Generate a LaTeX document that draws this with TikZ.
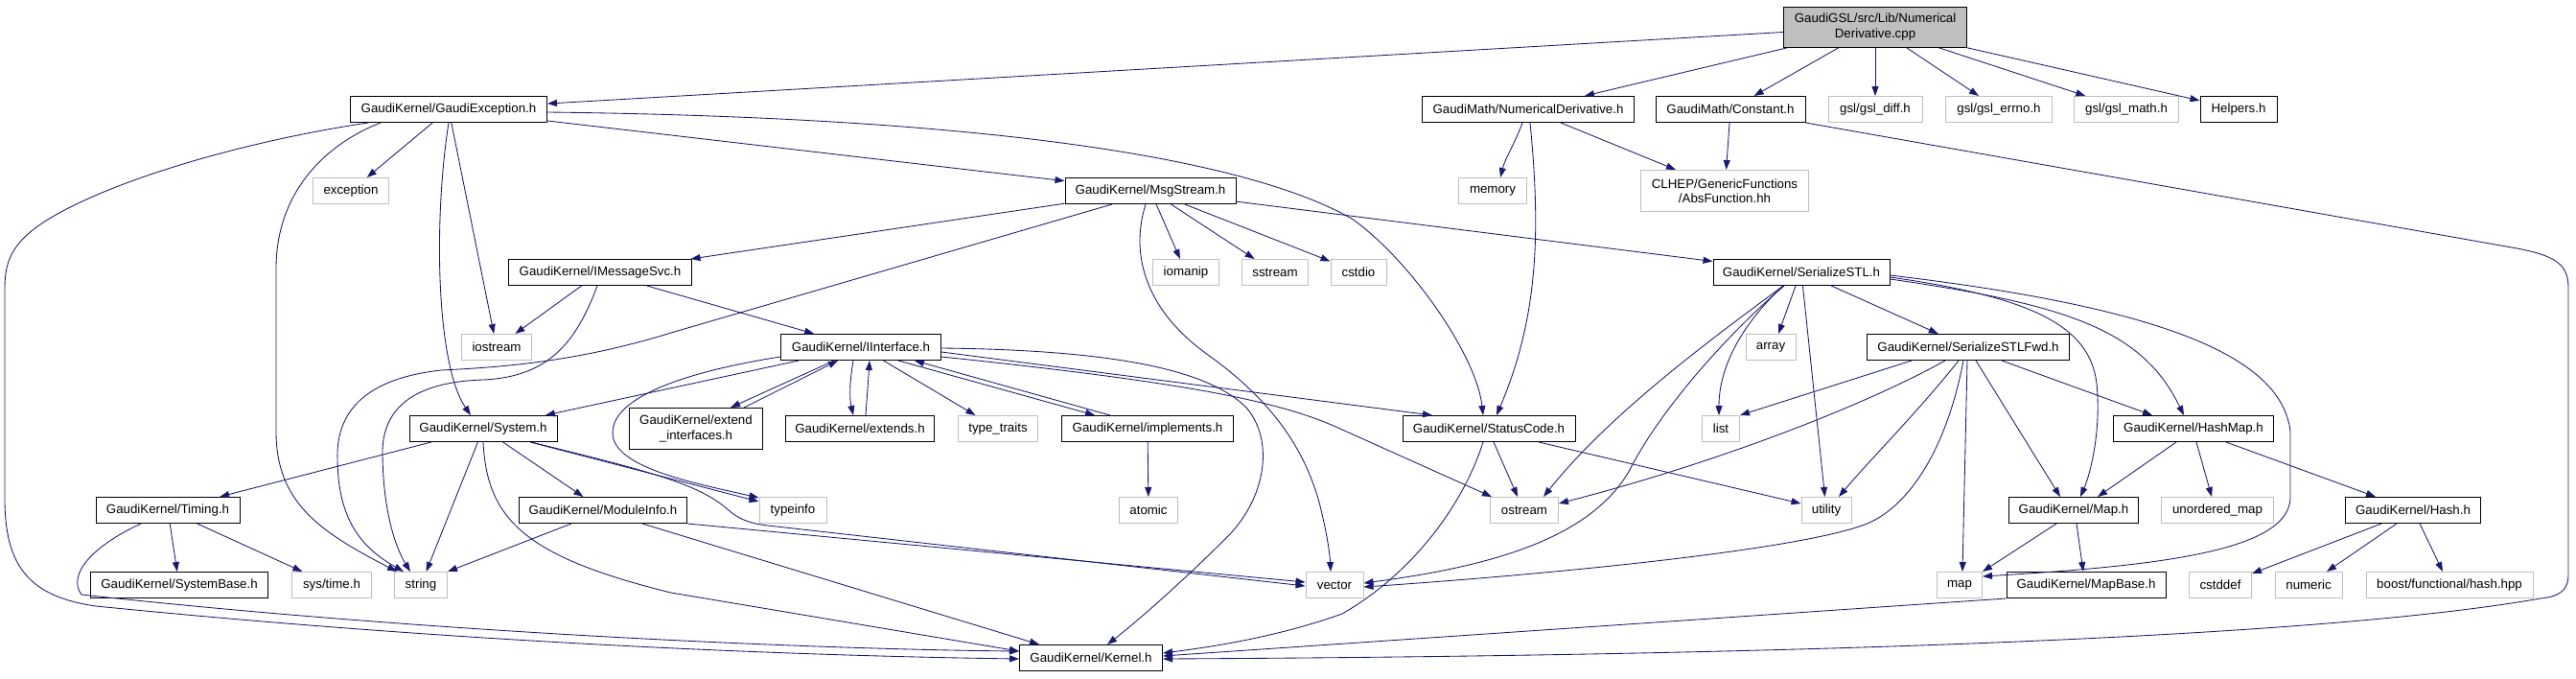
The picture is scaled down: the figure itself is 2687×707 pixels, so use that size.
\documentclass[tikz,border=0pt]{standalone}
\usepackage{fontspec}
\setmainfont{Liberation Sans}
\usetikzlibrary{arrows.meta}
\definecolor{edgeblue}{HTML}{191970}
\definecolor{extgray}{HTML}{BFBFBF}
\definecolor{rootgray}{HTML}{BFBFBF}
\newcommand\labfont{\fontsize{13.3}{15.5}\selectfont}
\begin{document}
\begin{tikzpicture}[x=1pt,y=-1pt,
  box/.style={draw=black, line width=1pt, fill=white, inner sep=0pt, minimum height=27pt, align=center, font=\labfont},
  ext/.style={box, draw=extgray},
  rootbox/.style={box, fill=rootgray, minimum height=42pt},
  e/.style={draw=edgeblue, line width=0.85pt, -{Triangle[length=10pt,width=7pt]}}]
\useasboundingbox (0,0) rectangle (2687,707);
\fill[white] (0,0) rectangle (2687,707);
% rank 0
\node[rootbox, minimum width=191pt] (root) at (1956,28) {GaudiGSL/src/Lib/Numerical\\Derivative.cpp};
% rank 1
\node[box, minimum width=205pt] (gexc) at (468,114) {GaudiKernel/GaudiException.h};
\node[box, minimum width=221pt] (numd) at (1594,114) {GaudiMath/NumericalDerivative.h};
\node[box, minimum width=156pt] (const) at (1805,114) {GaudiMath/Constant.h};
\node[ext, minimum width=98pt] (gdiff) at (1956,114) {gsl/gsl\_diff.h};
\node[ext, minimum width=111pt] (gerrno) at (2085,114) {gsl/gsl\_errno.h};
\node[ext, minimum width=109pt] (gmath) at (2218,114) {gsl/gsl\_math.h};
\node[box, minimum width=80pt] (helpers) at (2335,114) {Helpers.h};
% rank 2
\node[ext, minimum width=79pt] (exception) at (366,199) {exception};
\node[box, minimum width=178pt] (msgs) at (1200,199) {GaudiKernel/MsgStream.h};
\node[ext, minimum width=71pt] (memory) at (1557,199) {memory};
\node[ext, minimum width=175pt, minimum height=43pt] (clhep) at (1799,199) {CLHEP/GenericFunctions\\/AbsFunction.hh};
% rank 3
\node[box, minimum width=191pt] (imsg) at (626,284) {GaudiKernel/IMessageSvc.h};
\node[ext, minimum width=69pt] (iomanip) at (1237,284) {iomanip};
\node[ext, minimum width=69pt] (sstream) at (1330,284) {sstream};
\node[ext, minimum width=58pt] (cstdio) at (1417,284) {cstdio};
\node[box, minimum width=184pt] (sstl) at (1879,284) {GaudiKernel/SerializeSTL.h};
% rank 4
\node[ext, minimum width=73pt] (iostream) at (518,362) {iostream};
\node[box, minimum width=167pt] (iint) at (898,362) {GaudiKernel/IInterface.h};
\node[ext, minimum width=52pt] (array) at (1847,362) {array};
\node[box, minimum width=211pt] (sfwd) at (2053,362) {GaudiKernel/SerializeSTLFwd.h};
% rank 5
\node[box, minimum width=154pt] (system) at (504,447) {GaudiKernel/System.h};
\node[box, minimum width=139pt, minimum height=43pt] (extint) at (726,447) {GaudiKernel/extend\\\_interfaces.h};
\node[box, minimum width=155pt] (extends) at (897,447) {GaudiKernel/extends.h};
\node[ext, minimum width=83pt] (ttraits) at (1041,447) {type\_traits};
\node[box, minimum width=179pt] (impl) at (1197,447) {GaudiKernel/implements.h};
\node[box, minimum width=180pt] (status) at (1553,447) {GaudiKernel/StatusCode.h};
\node[ext, minimum width=39pt] (list) at (1795,447) {list};
\node[box, minimum width=167pt] (hashmap) at (2288,447) {GaudiKernel/HashMap.h};
% rank 6
\node[box, minimum width=150pt] (timing) at (175,532) {GaudiKernel/Timing.h};
\node[box, minimum width=175pt] (modinfo) at (629,532) {GaudiKernel/ModuleInfo.h};
\node[ext, minimum width=70pt] (typeinfo) at (827,532) {typeinfo};
\node[ext, minimum width=61pt] (atomic) at (1198,532) {atomic};
\node[ext, minimum width=71pt] (ostream) at (1590,532) {ostream};
\node[ext, minimum width=52pt] (utility) at (1905,532) {utility};
\node[box, minimum width=135pt] (mapH) at (2163,532) {GaudiKernel/Map.h};
\node[ext, minimum width=117pt] (umap) at (2313,532) {unordered\_map};
\node[box, minimum width=141pt] (hash) at (2517,532) {GaudiKernel/Hash.h};
% rank 7
\node[box, minimum width=185pt] (sysbase) at (187,610) {GaudiKernel/SystemBase.h};
\node[ext, minimum width=83pt] (systime) at (346,610) {sys/time.h};
\node[ext, minimum width=55pt] (string) at (439,610) {string};
\node[ext, minimum width=60pt] (vector) at (1392,610) {vector};
\node[ext, minimum width=47pt] (map) at (2044,610) {map};
\node[box, minimum width=166pt] (mapbase) at (2176,610) {GaudiKernel/MapBase.h};
\node[ext, minimum width=65pt] (cstddef) at (2316,610) {cstddef};
\node[ext, minimum width=70pt] (numeric) at (2408,610) {numeric};
\node[ext, minimum width=174pt] (boost) at (2555,610) {boost/functional/hash.hpp};
% rank 8
\node[box, minimum width=149pt] (kernel) at (1138,686) {GaudiKernel/Kernel.h};

% ---- root
\draw[e] (root) -- (gexc);
\draw[e] (root) -- (numd);
\draw[e] (root) -- (const);
\draw[e] (root) -- (gdiff);
\draw[e] (root) -- (gerrno);
\draw[e] (root) -- (gmath);
\draw[e] (root) -- (helpers);
% ---- GaudiException
\draw[e] (gexc) -- (exception);
\draw[e] (gexc) -- (msgs);
\draw[e] (gexc) -- (iostream);
\draw[e] (gexc.south) .. controls (452,230) and (455,380) .. ([xshift=-13pt]system.north);
\draw[e] ([xshift=-71pt]gexc.south) .. controls (340,150) and (288,200) .. (288,280) -- (288,450) .. controls (288,525) and (335,555) .. ([xshift=-25pt]string.north);
\draw[e] ([xshift=-84pt]gexc.south) .. controls (250,148) and (110,190) .. (45,232) .. controls (15,252) and (5,270) .. (5,300) -- (5,520) .. controls (5,590) and (30,622) .. (100,632) .. controls (500,672) and (850,684) .. ([yshift=-1pt]kernel.west);
\draw[e] ([yshift=-3pt]gexc.east) .. controls (1000,122) and (1290,160) .. (1410,228) .. controls (1470,270) and (1540,370) .. ([xshift=-6pt]status.north);
% ---- MsgStream
\draw[e] (msgs) -- (imsg);
\draw[e] ([xshift=-40pt]msgs.south) -- (700,347) .. controls (600,378) and (520,383) .. (460,386) .. controls (380,395) and (350,430) .. (352,480) .. controls (353,540) and (375,570) .. ([xshift=-18pt]string.north);
\draw[e] ([xshift=-5pt]msgs.south) .. controls (1180,260) and (1190,320) .. (1260,370) .. controls (1330,420) and (1360,470) .. (1375,520) .. controls (1383,550) and (1387,575) .. ([xshift=-4pt]vector.north);
\draw[e] (msgs) -- (iomanip);
\draw[e] (msgs) -- (sstream);
\draw[e] (msgs) -- (cstdio);
\draw[e] (msgs) -- (sstl);
% ---- IMessageSvc
\draw[e] (imsg) -- (iostream);
\draw[e] (imsg) -- (iint);
\draw[e] ([xshift=-3pt]imsg.south) .. controls (600,360) and (570,393) .. (504,396) .. controls (440,398) and (400,420) .. (399,470) .. controls (399,530) and (412,570) .. ([xshift=-11pt]string.north);
% ---- IInterface
\draw[e] (iint) -- (system);
\draw[e] ([yshift=-10pt]iint.west) .. controls (700,390) and (630,420) .. (640,458) .. controls (650,490) and (730,505) .. ([yshift=-1pt]typeinfo.north west);
\draw[e] ([xshift=-28pt]iint.south) -- ([xshift=36pt]extint.north);
\draw[e] ([xshift=50pt]extint.north) -- ([xshift=-24pt]iint.south);
\draw[e] ([xshift=-8pt]iint.south) .. controls (886,400) and (886,415) .. ([xshift=-7pt]extends.north);
\draw[e] ([xshift=6pt]extends.north) .. controls (905,410) .. ([xshift=9pt]iint.south);
\draw[e] (iint) -- (ttraits);
\draw[e] ([xshift=39pt]iint.south) -- ([xshift=-55pt]impl.north);
\draw[e] ([xshift=-39pt]impl.north) -- ([xshift=56pt]iint.south);
\draw[e] ([yshift=-5pt]iint.east) -- ([xshift=-59pt]status.north);
\draw[e] ([yshift=-10pt]iint.east) .. controls (1250,400) and (1340,420) .. (1400,448) -- ([xshift=-34pt]ostream.north);
\draw[e] ([yshift=-1pt]iint.east) .. controls (1160,365) and (1260,385) .. (1300,425) .. controls (1330,460) and (1320,520) .. (1280,560) .. controls (1240,600) and (1190,645) .. ([xshift=17pt]kernel.north);
% ---- implements
\draw[e] (impl) -- (atomic);
% ---- System
\draw[e] (system) -- (timing);
\draw[e] (system) -- (modinfo);
\draw[e] (system) -- (string);
\draw[e] (system.south) .. controls (508,540) and (545,580) .. (700,618) -- ([yshift=7pt]kernel.west);
\draw[e] ([xshift=49pt]system.south) -- ([yshift=-5pt]typeinfo.north west);
\draw[e] ([xshift=50pt]system.south) .. controls (680,492) and (730,505) .. (760,532) .. controls (775,545) and (790,547) .. (810,549) -- ([yshift=-1pt]vector.west);
% ---- ModuleInfo
\draw[e] ([xshift=-33pt]modinfo.south) -- (string.north east);
\draw[e] (modinfo.south east) -- ([yshift=3pt]vector.west);
\draw[e] ([xshift=41pt]modinfo.south) -- ([xshift=-54pt]kernel.north);
% ---- Timing
\draw[e] (timing) -- (sysbase);
\draw[e] (timing) -- (systime);
\draw[e] ([xshift=-28pt]timing.south) .. controls (95,570) and (70,600) .. (85,620) .. controls (450,660) and (850,677) .. ([yshift=7pt]kernel.west);
% ---- StatusCode
\draw[e] ([xshift=5pt]status.south) -- ([xshift=-7pt]ostream.north);
\draw[e] ([xshift=52pt]status.south) -- ([yshift=7pt]utility.west);
\draw[e] ([xshift=-6pt]status.south) .. controls (1525,530) and (1470,600) .. (1400,640) .. controls (1330,665) and (1260,675) .. ([yshift=5pt]kernel.east);
% ---- SerializeSTL
\draw[e] ([xshift=-6pt]sstl.south) -- ([xshift=8pt]array.north);
\draw[e] ([xshift=-19pt]sstl.south) .. controls (1820,335) and (1793,380) .. ([xshift=-2pt]list.north);
\draw[e] (sstl) -- (utility);
\draw[e] (sstl) -- (sfwd);
\draw[e] ([xshift=-19pt]sstl.south) .. controls (1790,350) and (1680,430) .. ([xshift=20pt]ostream.north);
\draw[e] ([xshift=-18pt]sstl.south) .. controls (1800,350) and (1730,430) .. (1700,490) .. controls (1660,560) and (1560,590) .. ([yshift=2pt]vector.east);
\draw[e] ([yshift=-7pt]sstl.east) .. controls (2160,318) and (2235,345) .. ([xshift=-10pt]hashmap.north);
\draw[e] ([yshift=-5pt]sstl.east) .. controls (2120,310) and (2180,340) .. (2187,400) .. controls (2192,450) and (2180,495) .. ([xshift=7pt]mapH.north);
\draw[e] ([yshift=-3pt]sstl.east) .. controls (2250,320) and (2380,370) .. (2389,450) -- (2389,520) .. controls (2386,575) and (2250,590) .. ([yshift=-5pt]map.north east);
% ---- SerializeSTLFwd
\draw[e] ([xshift=-59pt]sfwd.south) -- (list.north east);
\draw[e] ([xshift=-24pt]sfwd.south) .. controls (1950,420) and (1800,480) .. ([yshift=7pt]ostream.east);
\draw[e] ([xshift=-10pt]sfwd.south) .. controls (2000,430) and (1950,480) .. ([xshift=13pt]utility.north);
\draw[e] ([xshift=-5pt]sfwd.south) .. controls (2030,470) and (1990,530) .. (1945,547) .. controls (1870,575) and (1600,600) .. ([yshift=-2pt]vector.east);
\draw[e] ([xshift=-1pt]sfwd.south) -- ([xshift=3pt]map.north);
\draw[e] ([xshift=8pt]sfwd.south) -- ([xshift=-14pt]mapH.north);
\draw[e] ([xshift=35pt]sfwd.south) -- ([xshift=-43pt]hashmap.north);
% ---- HashMap
\draw[e] ([xshift=-18pt]hashmap.south) -- ([xshift=25pt]mapH.north);
\draw[e] ([xshift=3pt]hashmap.south) -- ([xshift=-6pt]umap.north);
\draw[e] ([xshift=34pt]hashmap.south) -- ([xshift=-39pt]hash.north);
% ---- Map
\draw[e] ([xshift=-18pt]mapH.south) -- (map.north east);
\draw[e] ([xshift=3pt]mapH.south) -- ([xshift=-3pt]mapbase.north);
\draw[e] (mapbase.south west) -- ([yshift=2pt]kernel.east);
% ---- Hash
\draw[e] ([xshift=-33pt]hash.south) -- ([yshift=-2pt]cstddef.north east);
\draw[e] ([xshift=-17pt]hash.south) -- ([xshift=19pt]numeric.north);
\draw[e] ([xshift=7pt]hash.south) -- ([xshift=-7pt]boost.north);
% ---- Constant
\draw[e] (const) -- (clhep);
\draw[e] (const.south east) -- (2620,258) .. controls (2665,266) and (2679,275) .. (2679,300) -- (2679,600) .. controls (2679,615) and (2670,622) .. (2650,624) .. controls (2400,668) and (1800,684) .. ([yshift=-1pt]kernel.east);
% ---- NumericalDerivative
\draw[e] ([xshift=-6pt]numd.south) .. controls (1580,150) and (1570,165) .. ([xshift=8pt]memory.north);
\draw[e] ([xshift=34pt]numd.south) -- ([xshift=-51pt]clhep.north);
\draw[e] ([xshift=2pt]numd.south) .. controls (1607,240) and (1605,330) .. ([xshift=8pt]status.north);
\end{tikzpicture}
\end{document}
